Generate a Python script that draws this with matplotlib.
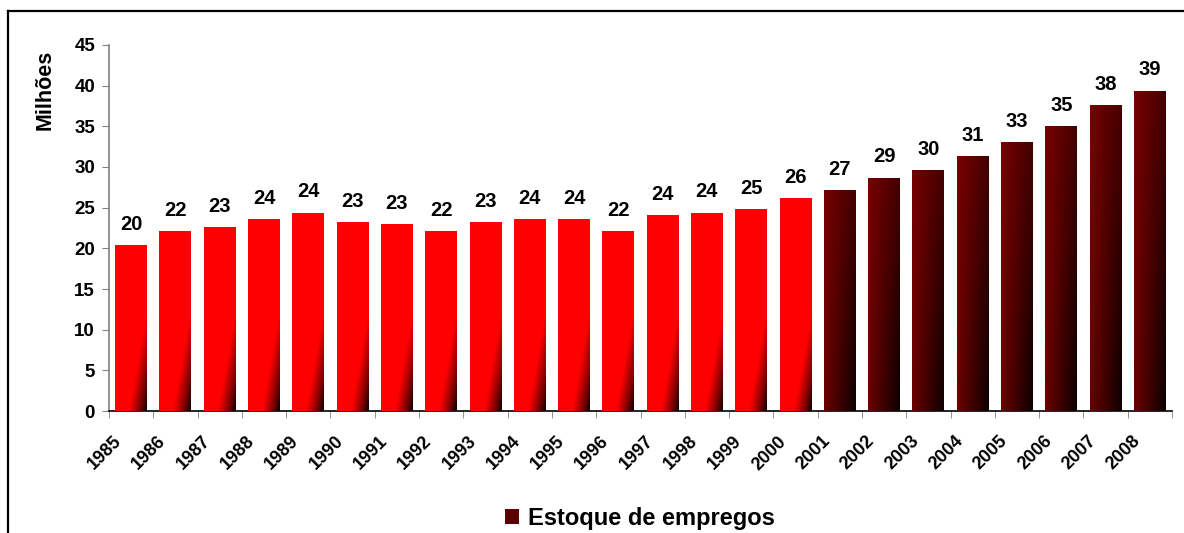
import numpy as np
import matplotlib
matplotlib.use("Agg")
import matplotlib.pyplot as plt
from matplotlib.patches import Patch
from matplotlib.lines import Line2D
from matplotlib.transforms import ScaledTranslation

plt.rcParams['font.family'] = ['Liberation Sans', 'DejaVu Sans']

years = ['1985', '1986', '1987', '1988', '1989', '1990', '1991', '1992',
         '1993', '1994', '1995', '1996', '1997', '1998', '1999', '2000',
         '2001', '2002', '2003', '2004', '2005', '2006', '2007', '2008']
values = [20.4, 22.1, 22.6, 23.6, 24.4, 23.2, 23.0, 22.1,
          23.2, 23.6, 23.6, 22.1, 24.1, 24.4, 24.8, 26.2,
          27.2, 28.7, 29.6, 31.4, 33.1, 35.0, 37.6, 39.4]
series_name = 'Estoque de empregos'
ylabel = 'Milhões'
yticks = [0, 5, 10, 15, 20, 25, 30, 35, 40, 45]

W, H = 1184, 533
fig = plt.figure(figsize=(W / 100, H / 100), dpi=100)
ax = fig.add_axes([109 / W, 1 - 411 / H, (1172 - 109) / W, (411 - 45) / H])

x = np.arange(len(years))
bar_w = 0.72
bars = ax.bar(x, values, width=bar_w, color='#ff0000', zorder=2)

ax.set_xlim(-0.5, len(years) - 0.5)
ax.set_ylim(0, 45)

# px per data unit
ppx = (1172 - 109) / len(years)
ppy = (411 - 45) / 45.0

for i, b in enumerate(bars):
    x0 = b.get_x()
    w = b.get_width()
    h = b.get_height()
    nx, ny = 60, 200
    xs = np.linspace(x0, x0 + w, nx)
    ys = np.linspace(0, h, ny)
    XX, YY = np.meshgrid(xs, ys)
    img = np.zeros((ny, nx, 3))
    if int(years[i]) <= 2000:
        dx = (x0 + w - XX) * ppx
        dy = YY * ppy
        t = np.clip(dx / 18.0 + dy / 100.0, 0, 1) ** 0.8
        img[..., 0] = t
    else:
        u = (XX - x0) / w
        v = YY / h
        f = 1 - 0.43 * u - 0.47 * u * (1 - v) - 0.1 * (1 - v) * (1 - u)
        img[..., 0] = 0.47 * np.clip(f, 0, 1)
    im = ax.imshow(img, extent=[x0, x0 + w, 0, h], origin='lower',
                   aspect='auto', zorder=3, interpolation='bilinear')
    im.set_clip_path(b)

ax.set_xlim(-0.5, len(years) - 0.5)
ax.set_ylim(0, 45)

# data labels
for i, v in enumerate(values):
    ax.annotate('%.0f' % v, (x[i], v), xytext=(0, 8), textcoords='offset points',
                ha='center', va='bottom', fontsize=14.5, fontweight='bold', zorder=5)

# spines
for s in ['top', 'right']:
    ax.spines[s].set_visible(False)
ax.spines['left'].set_color('#808080')
ax.spines['bottom'].set_color('black')
ax.spines['left'].set_linewidth(1.2)
ax.spines['bottom'].set_linewidth(1.2)

ax.set_yticks(yticks)
ax.set_yticklabels([str(t) for t in yticks], fontsize=13.5, fontweight='bold')
ax.tick_params(axis='y', direction='out', length=5, color='#808080', pad=5)

ax.set_xticks(x)
ax.set_xticklabels(years, rotation=45, ha='right', va='center',
                   rotation_mode='anchor', fontsize=13, fontweight='bold')
ax.tick_params(axis='x', which='major', length=0, pad=20)
ax.set_xticks(np.arange(-0.5, len(years)), minor=True)
ax.tick_params(axis='x', which='minor', direction='out', length=5, color='#808080')
shift = ScaledTranslation(-12 / 100, 0, fig.dpi_scale_trans)
for lbl in ax.get_xticklabels():
    lbl.set_transform(lbl.get_transform() + shift)

fig.text(45 / W, 1 - 90 / H, ylabel, rotation=90, ha='center', va='center',
         fontsize=15.5, fontweight='bold')

# figure frame (top + left)
fig.add_artist(Line2D([8 / W, 8 / W], [0, 1 - 11 / H], transform=fig.transFigure,
                      color='black', lw=1.6))
fig.add_artist(Line2D([8 / W, 1], [1 - 11 / H, 1 - 11 / H], transform=fig.transFigure,
                      color='black', lw=1.6))

handle = Patch(facecolor='#5a0000', edgecolor='none')
leg = fig.legend([handle], [series_name], loc='center', bbox_to_anchor=(640 / W, 1 - 518 / H),
                 frameon=False, prop={'size': 17, 'weight': 'bold'},
                 handlelength=0.6, handleheight=0.6, handletextpad=0.4)

fig.savefig('out.png', dpi=100, facecolor='white')
